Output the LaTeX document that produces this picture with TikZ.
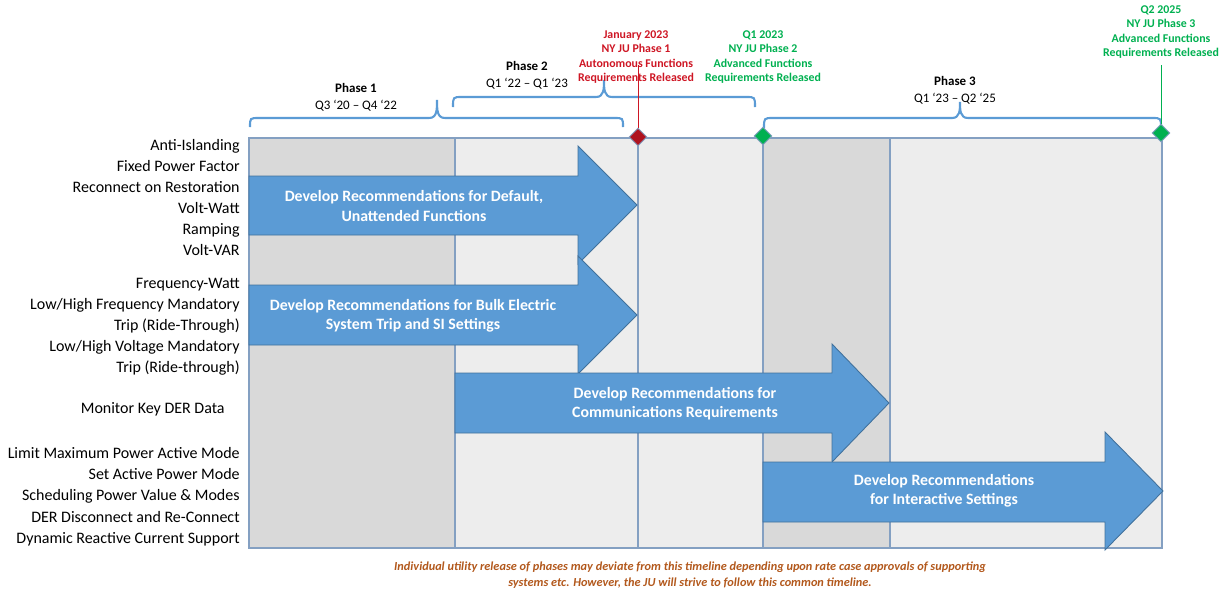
\documentclass[tikz,border=0pt]{standalone}
\usepackage{fontspec}
\setmainfont{Carlito}
\usepackage{xcolor}
\usetikzlibrary{shapes.geometric}

\definecolor{darkcol}{RGB}{217,217,217}
\definecolor{lightcol}{RGB}{237,237,237}
\definecolor{gridblue}{RGB}{132,160,194}
\definecolor{arrowblue}{RGB}{91,155,213}
\definecolor{arrowedge}{RGB}{65,113,156}
\definecolor{msred}{RGB}{206,22,36}
\definecolor{msgreen}{RGB}{0,176,80}
\definecolor{notebrown}{RGB}{178,88,28}

\tikzset{
  rowlabel/.style={anchor=base east, inner sep=0pt, font=\fontsize{9.1}{10}\selectfont},
  phaselabel/.style={align=center, inner sep=0pt, font=\fontsize{7.4}{9.6}\selectfont},
  phasebrace/.style={arrowblue, line width=1.2pt},
  gridline/.style={gridblue, line width=0.6pt},
  devarrow/.style={fill=arrowblue, draw=arrowedge, line width=0.5pt},
  arrowtext/.style={white, align=center, inner sep=0pt, font=\bfseries\fontsize{9}{11}\selectfont},
  milestone/.style={diamond, draw=gridblue, line width=0.5pt, inner sep=0pt, minimum width=0.36cm, minimum height=0.36cm},
  mstext/.style={align=center, inner sep=0pt, font=\bfseries\fontsize{6.75}{8.3}\selectfont}
}

\begin{document}
\begin{tikzpicture}[x=0.02cm, y=-0.02cm]
    \useasboundingbox (0,0) rectangle (1224,592);

    % column shading
    \fill[darkcol] (249,138) rectangle (455,548);
    \fill[lightcol] (455,138) rectangle (763,548);
    \fill[darkcol] (763,138) rectangle (890,548);
    \fill[lightcol] (890,138) rectangle (1162,548);
    \draw[gridline] (249,138) rectangle (1162,548);
    \draw[gridline] (455,138) -- (455,548);
    \draw[gridline] (638,138) -- (638,548);
    \draw[gridline] (763,138) -- (763,548);
    \draw[gridline] (890,138) -- (890,548);

    % phase braces
    \draw[phasebrace] (250,127) .. controls (250,118) .. (259,118) -- (429,118)
        .. controls (437,118) and (437,110) .. (437,100)
        .. controls (437,110) and (437,118) .. (445,118) -- (614,118)
        .. controls (623,118) .. (623,127);
    \draw[phasebrace] (453,107) .. controls (453,97) .. (462,97) -- (596,97)
        .. controls (604,97) and (604,89) .. (604,80)
        .. controls (604,89) and (604,97) .. (612,97) -- (746,97)
        .. controls (755,97) .. (755,107);
    \draw[phasebrace] (764,128) .. controls (764,118) .. (773,118) -- (952,118)
        .. controls (960,118) and (960,110) .. (960,102)
        .. controls (960,110) and (960,118) .. (968,118) -- (1152,118)
        .. controls (1161,118) .. (1161,128);

    \node[phaselabel] (ph1) at (356,97) {\textbf{Phase 1}\\Q3 ‘20 – Q4 ‘22};
    \node[phaselabel] (ph2) at (527,75) {\textbf{Phase 2}\\Q1 ‘22 – Q1 ‘23};
    \node[phaselabel] (ph3) at (955,90) {\textbf{Phase 3}\\Q1 ‘23 – Q2 ‘25};

    % milestones
    \node[milestone, fill=msred!85!black] (m1) at (638,137) {};
    \node[milestone, fill=msgreen] (m2) at (763,136) {};
    \node[milestone, fill=msgreen] (m3) at (1161,133) {};
    \coordinate (m1top) at (638,65);
    \coordinate (m3top) at (1161,65);
    \draw[msred, line width=0.4pt] (m1top) -- (m1.north);
    \draw[msgreen, line width=0.4pt] (m3top) -- (m3.north);

    \node[mstext, msred] (m1text) at (636,57)
        {January 2023\\NY JU Phase 1\\Autonomous Functions\\Requirements Released};
    \node[mstext, msgreen] (m2text) at (763,57)
        {Q1 2023\\NY JU Phase 2\\Advanced Functions\\Requirements Released};
    \node[mstext, msgreen] (m3text) at (1161,32)
        {Q2 2025\\NY JU Phase 3\\Advanced Functions\\Requirements Released};

    % work streams
    \draw[devarrow] (249,176) -- (578,176) -- (578,146) -- (637,205) -- (578,264) -- (578,235) -- (249,235) -- cycle;
    \draw[devarrow] (249,285) -- (578,285) -- (578,256) -- (637,315) -- (578,374) -- (578,345) -- (249,345) -- cycle;
    \draw[devarrow] (455,373) -- (832,373) -- (832,344) -- (889,403) -- (832,462) -- (832,433) -- (455,433) -- cycle;
    \draw[devarrow] (763,462) -- (1105,462) -- (1105,432) -- (1163,491) -- (1105,550) -- (1105,522) -- (763,522) -- cycle;

    \node[arrowtext] (a1) at (414,206) {Develop Recommendations for Default,\\Unattended Functions};
    \node[arrowtext] (a2) at (413,316) {Develop Recommendations for Bulk Electric\\System Trip and SI Settings};
    \node[arrowtext] (a3) at (675,404) {Develop Recommendations for\\Communications Requirements};
    \node[arrowtext] (a4) at (944,491) {Develop Recommendations\\for Interactive Settings};

    % functions
    \node[rowlabel] (f1) at (240,150) {Anti-Islanding};
    \node[rowlabel] (f2) at (240,171) {Fixed Power Factor};
    \node[rowlabel] (f3) at (240,192) {Reconnect on Restoration};
    \node[rowlabel] (f4) at (240,213) {Volt-Watt};
    \node[rowlabel] (f5) at (240,234) {Ramping};
    \node[rowlabel] (f6) at (240,255) {Volt-VAR};
    \node[rowlabel] (f7) at (240,288) {Frequency-Watt};
    \node[rowlabel] (f8) at (240,309) {Low/High Frequency Mandatory};
    \node[rowlabel] (f9) at (240,330) {Trip (Ride-Through)};
    \node[rowlabel] (f10) at (240,351) {Low/High Voltage Mandatory};
    \node[rowlabel] (f11) at (240,372) {Trip (Ride-through)};
    \node[rowlabel] (f12) at (225,413) {Monitor Key DER Data};
    \node[rowlabel] (f13) at (240,458) {Limit Maximum Power Active Mode};
    \node[rowlabel] (f14) at (240,479) {Set Active Power Mode};
    \node[rowlabel] (f15) at (240,500) {Scheduling Power Value \& Modes};
    \node[rowlabel] (f16) at (240,522) {DER Disconnect and Re-Connect};
    \node[rowlabel] (f17) at (240,543) {Dynamic Reactive Current Support};

    \node[notebrown, align=center, inner sep=0pt, font=\bfseries\itshape\fontsize{7}{9}\selectfont] (note) at (690,575)
        {Individual utility release of phases may deviate from this timeline depending upon rate case approvals of supporting\\systems etc. However, the JU will strive to follow this common timeline.};
\end{tikzpicture}
\end{document}
